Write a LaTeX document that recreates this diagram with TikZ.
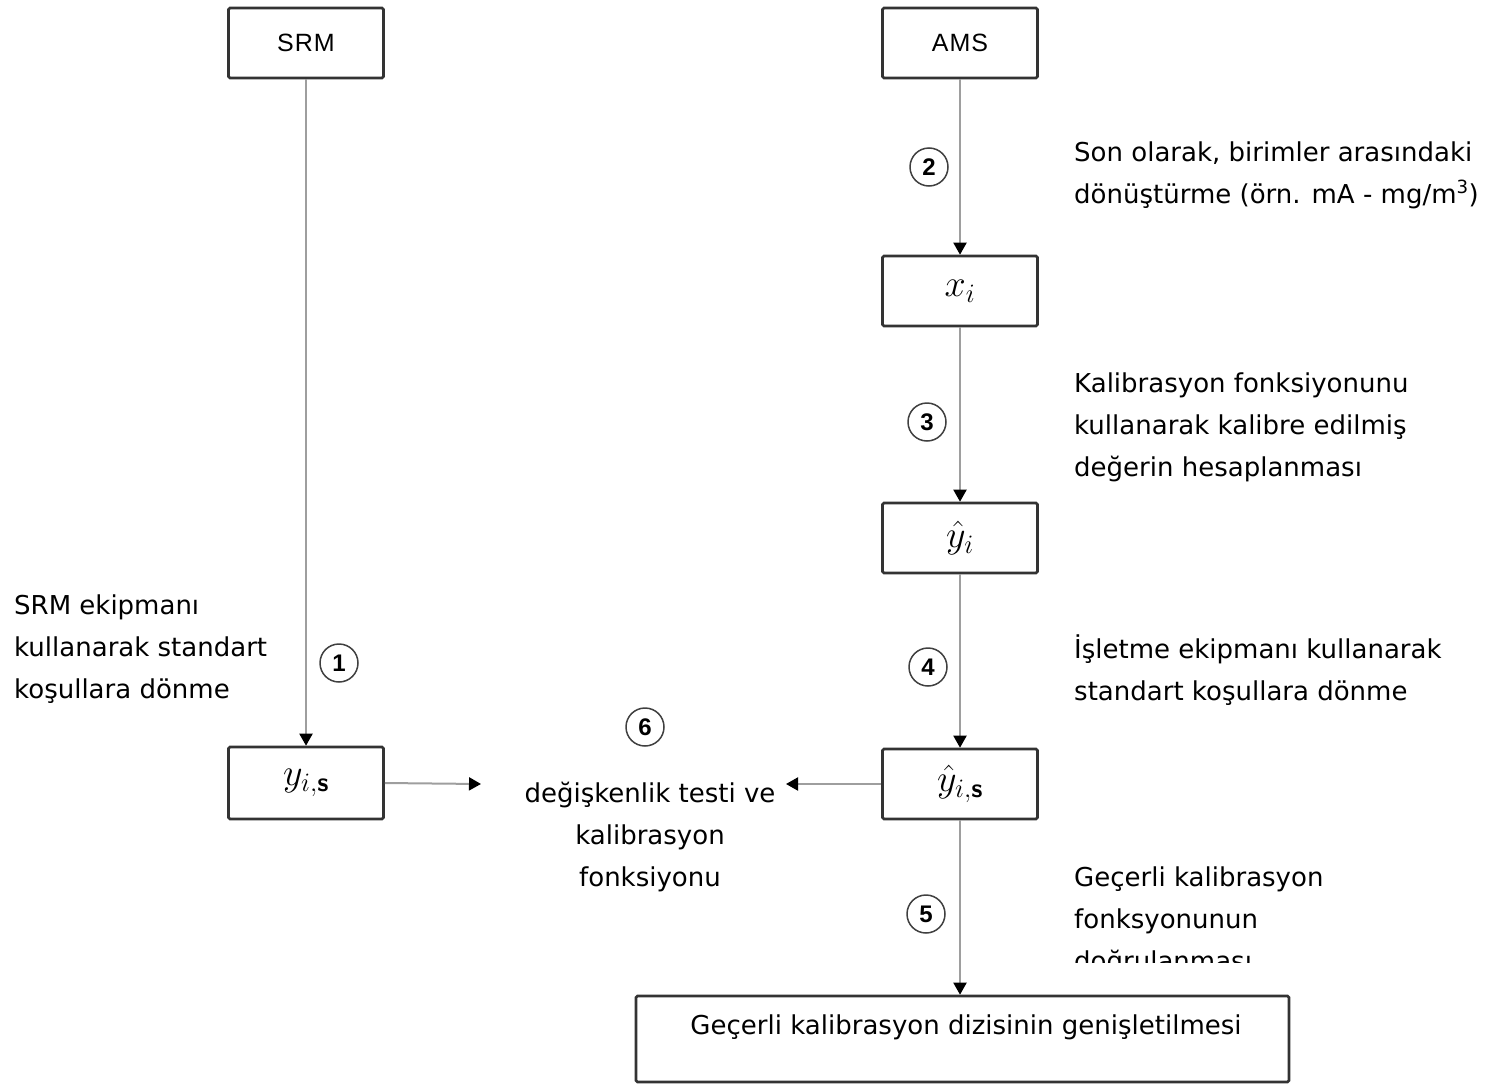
\RequirePackage{fix-cm}
\documentclass[tikz,border=0pt]{standalone}
\usepackage{amsmath}
\usepackage{fontspec}
\setmainfont{DejaVu Sans}
\newfontfamily\boxfont{Liberation Sans}
\usetikzlibrary{arrows.meta}
\tikzset{
  stagebox/.style={draw=black!80, line width=2.6pt, rounded corners=1.5pt, fill=white,
    minimum width=155pt, minimum height=70pt, inner sep=0pt},
  flow/.style={draw=black!38, line width=2pt,
    -{Triangle[width=13pt,length=12pt,color=black]}},
  numc/.style={circle, draw=black!75, line width=1.5pt, minimum size=38pt, inner sep=0pt,
    font=\boxfont\bfseries\fontsize{24}{28}\selectfont},
  note/.style={anchor=base west, inner sep=0pt, align=left,
    font=\fontsize{26}{42}\selectfont},
  mathlbl/.style={font=\fontsize{38}{44}\selectfont},
  titlelbl/.style={font=\boxfont\fontsize{25}{29}\selectfont},
}
\begin{document}
\begin{tikzpicture}[x=1pt,y=-1pt]
\useasboundingbox (0,0) rectangle (1491,1084);
% boxes
\node[stagebox, titlelbl] (srm) at (306,43) {\addfontfeatures{LetterSpace=4}SRM};
\node[stagebox, titlelbl] (ams) at (960,43) {\addfontfeatures{LetterSpace=4}AMS};
\node[stagebox, mathlbl] (xi) at (960,291) {$x_i$};
\node[stagebox, mathlbl] (yh) at (960,538) {$\hat{y}_i$};
\node[stagebox, mathlbl] (yhs) at (960,784) {$\hat{y}_{i,\text{\sffamily\bfseries s}}$};
\node[stagebox, mathlbl, minimum height=72pt] (yis) at (306,783) {$y_{i,\text{\sffamily\bfseries s}}$};
\node[stagebox, minimum width=653pt, minimum height=86pt] (fin) at (962.5,1039) {};
\node[anchor=base, inner sep=0pt, font=\fontsize{26}{30}\selectfont] (fintext) at (966,1034)
  {Geçerli kalibrasyon dizisinin genişletilmesi};
% central text (base = last line)
\node[anchor=base, inner sep=0pt, align=center, font=\fontsize{26}{42}\selectfont] (chg) at (650,886)
  {değişkenlik testi ve\\kalibrasyon\\fonksiyonu};
\coordinate (chgL) at (481,784);
\coordinate (chgR) at (786,784);
% connectors
\draw[flow] (srm.south) -- (yis.north);
\draw[flow] (ams.south) -- (xi.north);
\draw[flow] (xi.south) -- (yh.north);
\draw[flow] (yh.south) -- (yhs.north);
\draw[flow] (yhs.south) -- (yhs.south |- fin.north);
\draw[flow] (yis.east) -- (chgL);
\draw[flow] (yhs.west) -- (chgR);
% step numbers
\node[numc] (n1) at (339,663) {1};
\node[numc] (n2) at (929,167) {2};
\node[numc] (n3) at (927,422) {3};
\node[numc] (n4) at (928,667) {4};
\node[numc] (n5) at (926,914) {5};
\node[numc] (n6) at (645,727) {6};
% notes (base = last line)
\node[note] (t2) at (1074,203) {Son olarak, birimler arasındaki\\dönüştürme (örn. mA - mg/m\textsuperscript{3})};
\node[note] (t3) at (1074,476) {Kalibrasyon fonksiyonunu\\kullanarak kalibre edilmiş\\değerin hesaplanması};
\node[note] (t4) at (1074,700) {İşletme ekipmanı kullanarak\\standart koşullara dönme};
\begin{scope}
\clip (1060,850) rectangle (1491,962);
\node[note] (t5) at (1074,970) {Geçerli kalibrasyon\\fonksyonunun\\doğrulanması};
\end{scope}
\node[note] (t1) at (14,698) {SRM ekipmanı\\kullanarak standart\\koşullara dönme};
\end{tikzpicture}
\end{document}
